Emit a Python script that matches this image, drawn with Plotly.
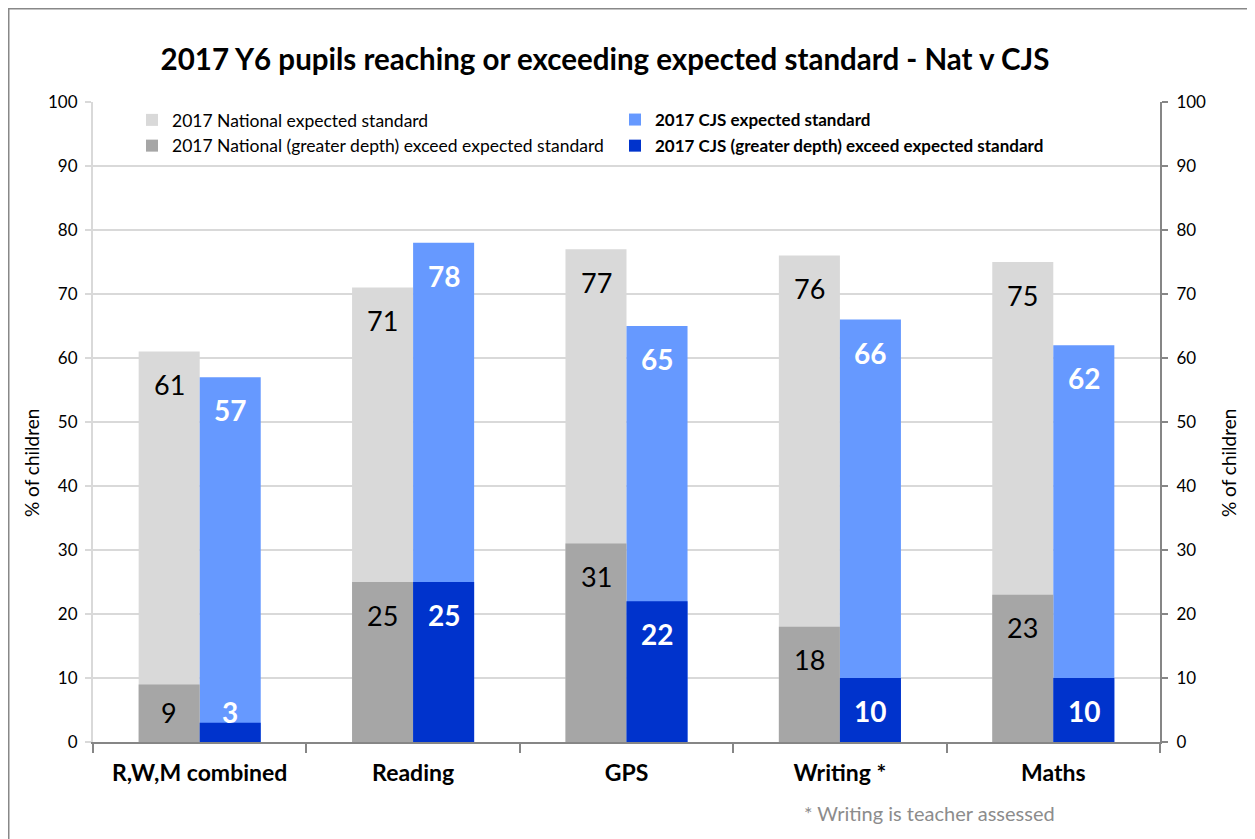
import plotly.graph_objects as go

categories = ["R,W,M combined", "Reading", "GPS", "Writing *", "Maths"]
nat_expected = [61, 71, 77, 76, 75]
nat_greater = [9, 25, 31, 18, 23]
cjs_expected = [57, 78, 65, 66, 62]
cjs_greater = [3, 25, 22, 10, 10]
y_ticks = list(range(0, 101, 10))

names = {
    "nat_exp": "2017 National expected standard",
    "nat_gd": "2017 National (greater depth) exceed expected standard",
    "cjs_exp": "<b>2017 CJS expected standard</b>",
    "cjs_gd": "<b>2017 CJS (greater depth) exceed expected standard</b>",
}

FONT = "Lato, 'Open Sans', sans-serif"
OFF = 8                      # page offset of the figure (body margin)
W, H = 1247, 831
PL, PR, PT, PB = 93, 1160, 102, 742   # plot area in page pixels
L, T = PL - OFF, PT - OFF
R, B = OFF + W - PR, OFF + H - PB
PW, PH = PR - PL, PB - PT

C_NAT_EXP = "#d9d9d9"
C_NAT_GD = "#a6a6a6"
C_CJS_EXP = "#6699ff"
C_CJS_GD = "#0033cc"

fig = go.Figure()
fig.add_trace(go.Bar(x=categories, y=nat_expected, name=names["nat_exp"], offsetgroup="nat",
                     legend="legend", legendgroup="a",
                     marker=dict(color=C_NAT_EXP, line=dict(width=0))))
fig.add_trace(go.Bar(x=categories, y=cjs_expected, name=names["cjs_exp"], offsetgroup="cjs",
                     legend="legend2", legendgroup="c",
                     marker=dict(color=C_CJS_EXP, line=dict(width=0))))
fig.add_trace(go.Bar(x=categories, y=nat_greater, name=names["nat_gd"], offsetgroup="nat",
                     legend="legend", legendgroup="b",
                     marker=dict(color=C_NAT_GD, line=dict(width=0))))
fig.add_trace(go.Bar(x=categories, y=cjs_greater, name=names["cjs_gd"], offsetgroup="cjs",
                     legend="legend2", legendgroup="d",
                     marker=dict(color=C_CJS_GD, line=dict(width=0))))
fig.add_trace(go.Scatter(x=categories, y=[None] * len(categories), yaxis="y2",
                         showlegend=False, hoverinfo="skip", mode="markers"))

px_per_unit = PH / 100.0
LABEL_DROP = 33 / px_per_unit
LABEL_MIN = 30 / px_per_unit
BAR_HALF = 30.5


def label_pos(v):
    return max(v - LABEL_DROP, LABEL_MIN)


annotations = []
for cat, ne, ng, ce, cg in zip(categories, nat_expected, nat_greater, cjs_expected, cjs_greater):
    for v in (ne, ng):
        annotations.append(dict(x=cat, y=label_pos(v), xref="x", yref="y", text=str(v),
                                showarrow=False, xshift=-BAR_HALF, yanchor="middle",
                                font=dict(family=FONT, size=27, color="#000000")))
    for v in (ce, cg):
        annotations.append(dict(x=cat, y=label_pos(v), xref="x", yref="y", text="<b>%d</b>" % v,
                                showarrow=False, xshift=BAR_HALF, yanchor="middle",
                                font=dict(family=FONT, size=28, color="#ffffff")))


def px_x(p):
    return (p - PL) / PW


def px_y(p):
    return (PB - p) / PH


annotations.append(dict(x=px_x(31), y=px_y(463), xref="paper", yref="paper", text="% of children",
                        textangle=-90, showarrow=False, xanchor="center", yanchor="middle",
                        font=dict(family=FONT, size=19, color="#000000")))
annotations.append(dict(x=px_x(1228), y=px_y(463), xref="paper", yref="paper", text="% of children",
                        textangle=-90, showarrow=False, xanchor="center", yanchor="middle",
                        font=dict(family=FONT, size=19, color="#000000")))
annotations.append(dict(x=px_x(929), y=px_y(813), xref="paper", yref="paper",
                        text="* Writing is teacher assessed", showarrow=False,
                        xanchor="center", yanchor="middle",
                        font=dict(family=FONT, size=20, color="#8c8c8c")))

shapes = [
    dict(type="line", xref="paper", yref="paper", x0=px_x(OFF), x1=px_x(OFF + W), y0=px_y(OFF + 0.5), y1=px_y(OFF + 0.5),
         line=dict(color="#888888", width=2)),
    dict(type="line", xref="paper", yref="paper", x0=px_x(OFF + 0.5), x1=px_x(OFF + 0.5), y0=px_y(OFF), y1=px_y(OFF + H),
         line=dict(color="#888888", width=2)),
]

legend_common = dict(orientation="v", xanchor="left", yanchor="top", itemwidth=30,
                     bgcolor="rgba(0,0,0,0)", traceorder="grouped")

fig.update_layout(
    width=W, height=H,
    margin=dict(l=L, r=R, t=T, b=B, autoexpand=False),
    paper_bgcolor="#ffffff", plot_bgcolor="#ffffff",
    barmode="group", bargap=0.428, bargroupgap=0,
    font=dict(family=FONT, color="#000000"),
    title=dict(text="<b>2017 Y6 pupils reaching or exceeding expected standard - Nat v CJS</b>",
               x=px_x(605), xref="paper", xanchor="center",
               y=1 - (60 - OFF) / H, yref="container", yanchor="middle",
               font=dict(family=FONT, size=29.5, color="#000000")),
    xaxis=dict(type="category", categoryorder="array", categoryarray=categories,
               showgrid=False, showline=True, linecolor="#868686", linewidth=2,
               ticks="outside", tickson="boundaries", ticklen=9, tickcolor="#868686", tickwidth=2,
               tickfont=dict(family=FONT, size=23, color="#000000", weight="bold"),
               ticklabelstandoff=9, zeroline=False, fixedrange=True),
    yaxis=dict(range=[0, 100], tickvals=y_ticks, showgrid=True, gridcolor="#d9d9d9", gridwidth=2,
               showline=True, linecolor="#d9d9d9", linewidth=2, ticks="outside", ticklen=6,
               tickcolor="#d9d9d9", tickwidth=2, zeroline=False,
               tickfont=dict(family=FONT, size=17, color="#000000"), ticklabelstandoff=4),
    yaxis2=dict(range=[0, 100], tickvals=y_ticks, overlaying="y", side="right", showgrid=False,
                showline=True, linecolor="#868686", linewidth=2, ticks="outside", ticklen=6,
                tickcolor="#868686", tickwidth=2, zeroline=False,
                tickfont=dict(family=FONT, size=17, color="#000000"), ticklabelstandoff=5),
    legend=dict(x=px_x(132), y=px_y(102), font=dict(family=FONT, size=17.5, color="#000000"),
                tracegroupgap=0, **legend_common),
    legend2=dict(x=px_x(615), y=px_y(102), font=dict(family=FONT, size=17, color="#000000"),
                 tracegroupgap=1, **legend_common),
    annotations=annotations,
    shapes=shapes,
    showlegend=True,
)

fig.write_html("out.html")
